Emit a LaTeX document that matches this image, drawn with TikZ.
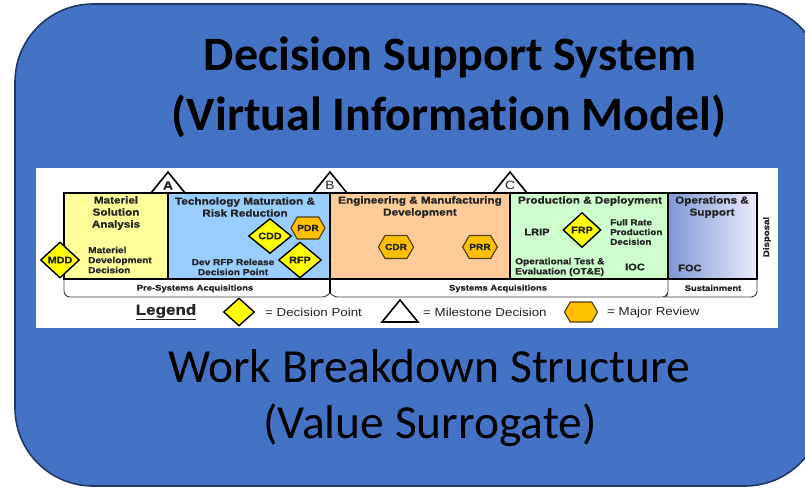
\documentclass[tikz,border=0pt]{standalone}
\usepackage{fontspec}
\setmainfont[Ligatures=NoCommon]{Carlito}
\newfontfamily\dfont[FakeStretch=1.15, BoldFeatures={FakeBold=0.8}]{Liberation Sans}
\usetikzlibrary{shapes.geometric,shapes.symbols}

\definecolor{panelblue}{RGB}{68,114,196}
\definecolor{paneledge}{RGB}{32,56,100}
\definecolor{msafill}{RGB}{255,255,153}
\definecolor{tmrrfill}{RGB}{153,204,255}
\definecolor{emdfill}{RGB}{255,204,153}
\definecolor{pdfill}{RGB}{204,255,204}
\definecolor{osleft}{RGB}{128,152,214}
\definecolor{osright}{RGB}{234,236,250}
\definecolor{dpyellow}{RGB}{255,255,0}
\definecolor{mrorange}{RGB}{255,192,0}
\definecolor{mredge}{RGB}{80,60,10}
\definecolor{labelgray}{RGB}{35,35,35}
\definecolor{bargray}{RGB}{60,60,60}

\tikzset{
  phasebox/.style={draw=black, line width=1.3pt},
  barline/.style={draw=bargray, line width=0.9pt},
  milestone/.style={draw=black, fill=white, line width=1.6pt, line join=miter},
  head/.style={font=\dfont\bfseries\fontsize{10.2}{12}\selectfont, text=labelgray, align=center, inner sep=0pt},
  sub/.style={font=\dfont\bfseries\fontsize{8.8}{10}\selectfont, text=labelgray, inner sep=0pt},
  barlabel/.style={font=\dfont\bfseries\fontsize{8.2}{10}\selectfont, text=labelgray, inner sep=0pt},
  dpoint/.style={diamond, draw=black, line width=1.4pt, fill=dpyellow, inner sep=0pt,
    font=\dfont\bfseries\fontsize{9.4}{10}\selectfont, text=labelgray},
  mreview/.style={signal, signal to=west and east, signal pointer angle=120, draw=mredge,
    line width=1.1pt, fill=mrorange, inner sep=0pt,
    font=\dfont\bfseries\fontsize{8.8}{10}\selectfont, text=labelgray},
  legendtext/.style={font=\dfont\fontsize{11.6}{13}\selectfont, text=labelgray, anchor=west, inner sep=0pt},
  letter/.style={font=\dfont\fontsize{12}{13}\selectfont, text=labelgray, inner sep=0pt},
  bigbold/.style={font=\bfseries\fontsize{48}{58}\selectfont, text=black, inner sep=0pt},
  bigplain/.style={font=\fontsize{47.5}{59}\selectfont, text=black, inner sep=0pt}
}

\begin{document}
\begin{tikzpicture}[x=1pt,y=-1pt]
\useasboundingbox (0,0) rectangle (805,488);
\clip (0,0) rectangle (805,488);

% outer rounded panel
\draw[fill=panelblue, draw=paneledge, line width=1.6pt, rounded corners=78pt]
  (15,4) rectangle (823,486);

% titles
\node[bigbold] (t1) at (450,57) {Decision Support System};
\node[bigbold] (t2) at (449,116) {(Virtual Information Model)};
\node[bigplain] (b1) at (429,366) {Work Breakdown Structure};
\node[bigplain] (b2) at (430,425) {(Value Surrogate)};

% white chart area
\fill[white] (36,168) rectangle (778,328);

% phase boxes
\fill[msafill] (64,193) rectangle (168,279);
\fill[tmrrfill] (168,193) rectangle (330,279);
\fill[emdfill] (330,193) rectangle (510,279);
\fill[pdfill] (510,193) rectangle (668,279);
\shade[left color=osleft, right color=osright] (668,193) rectangle (757,279);
\draw[phasebox] (64,193) rectangle (757,279);
\draw[phasebox] (168,193) -- (168,279);
\draw[phasebox] (330,193) -- (330,279);
\draw[phasebox] (510,193) -- (510,279);
\draw[phasebox] (668,193) -- (668,279);

% acquisition bars below the phases
\draw[barline] (64,279) {[rounded corners=6pt] -- (64,297) -- (328,297)} -- (330,293);
\draw[barline] (330,293) {[rounded corners=6pt] -- (332,297) -- (668,297)} -- (668,279);
\draw[barline] (666,297) {[rounded corners=6pt] -- (670,297) -- (757,297)} -- (757,279);
\draw[barline] (666,297) -- (668,293);
\draw[phasebox] (330,279) -- (330,293);

\node[barlabel] (pre) at (195,288.5) {Pre-Systems Acquisitions};
\node[barlabel] (sys) at (498,288.5) {Systems Acquisitions};
\node[barlabel] (sus) at (713,288) {Sustainment};

% milestones
\draw[milestone] (151,193) -- (168,172) -- (185,193) -- cycle;
\draw[milestone] (313,193) -- (330,172) -- (347,193) -- cycle;
\draw[milestone] (493,193) -- (510,172) -- (527,193) -- cycle;
\node[letter, font=\dfont\bfseries\fontsize{12}{13}\selectfont] (mA) at (168,185.5) {A};
\node[letter] (mB) at (330,185.5) {B};
\node[letter] (mC) at (510,185.5) {C};

% phase headings
\node[head] (msa) at (116,213) {Materiel\\Solution\\Analysis};
\node[head] (tmrr) at (245,207) {Technology Maturation \&\\Risk Reduction};
\node[head] (emd) at (420,207) {Engineering \& Manufacturing\\Development};
\node[head] (pd) at (590,201) {Production \& Deployment};
\node[head] (os) at (712,207) {Operations \&\\Support};

% inner labels
\node[sub, anchor=west, align=left] (mddtxt) at (88,260) {Materiel\\Development\\Decision};
\node[sub, align=center] (rfptxt) at (233,267) {Dev RFP Release\\Decision Point};
\node[sub, anchor=west, align=left, font=\dfont\bfseries\fontsize{8.6}{9.7}\selectfont] (frptxt) at (610,232) {Full Rate\\Production\\Decision};
\node[sub, font=\dfont\bfseries\fontsize{9.6}{10}\selectfont] (lrip) at (537,232) {LRIP};
\node[sub, anchor=west, align=left] (ote) at (515,267) {Operational Test \&\\Evaluation (OT\&E)};
\node[sub, font=\dfont\bfseries\fontsize{9.6}{10}\selectfont] (ioc) at (635,267) {IOC};
\node[sub, anchor=west, font=\dfont\bfseries\fontsize{9.6}{10}\selectfont] (foc) at (678,268) {FOC};
\node[sub, rotate=90, font=\dfont\bfseries\fontsize{8.4}{10}\selectfont] (disp) at (767,237) {Disposal};

% decision points
\node[dpoint, minimum width=39pt, minimum height=36pt] (mdd) at (60,260) {MDD};
\node[dpoint, minimum width=43pt, minimum height=35pt] (cdd) at (270,236) {CDD};
\node[dpoint, minimum width=43pt, minimum height=36pt] (rfp) at (300,260) {RFP};
\node[dpoint, minimum width=38pt, minimum height=35pt] (frp) at (582,230) {FRP};

% major reviews
\node[mreview, minimum width=30pt, minimum height=22pt] (pdr) at (308,228) {PDR};
\node[mreview, minimum width=32pt, minimum height=23pt] (cdr) at (396,247) {CDR};
\node[mreview, minimum width=32pt, minimum height=23pt] (prr) at (480,247) {PRR};

% legend
\node[font=\dfont\bfseries\fontsize{14.8}{16}\selectfont, text=labelgray, inner sep=0pt] (leg) at (166,312) {\underline{Legend}};
\node[dpoint, minimum width=31pt, minimum height=28pt] (legdp) at (239,312) {};
\node[legendtext] (legdptxt) at (265,312) {= Decision Point};
\draw[milestone] (382,322) -- (400,300) -- (418,322) -- cycle;
\node[legendtext] (legmstxt) at (423,312) {= Milestone Decision};
\node[mreview, minimum width=33pt, minimum height=20pt] (legmr) at (581,312) {};
\node[legendtext] (legmrtxt) at (607,312) {= Major Review};
\end{tikzpicture}
\end{document}
